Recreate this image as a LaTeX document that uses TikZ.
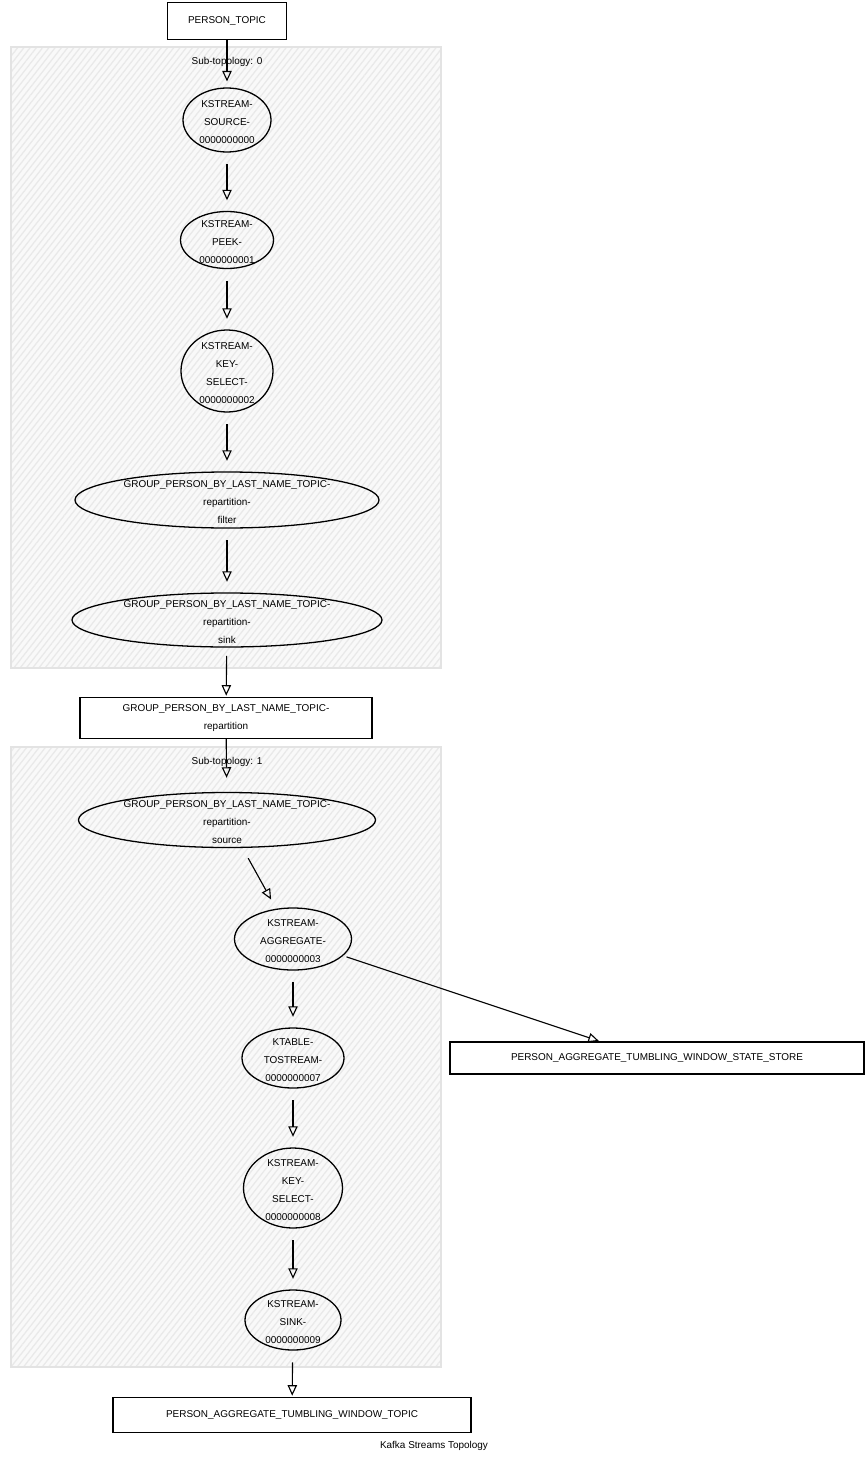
\documentclass[tikz,border=0pt]{standalone}
\usepackage{fontspec}
\setmainfont{Liberation Sans}
\usetikzlibrary{shapes.geometric,arrows.meta,patterns.meta,calc}
\newcommand{\pxu}{0.03cm}
\tikzset{
  topic/.style={draw, rectangle, line width=1.1pt, align=center, inner sep=0pt, fill=white},
  proc/.style={draw, ellipse, line width=1.1pt, inner sep=0pt},
  cluster/.style={draw=gray!22, line width=1.3pt, preaction={fill=gray!5}, pattern={Lines[angle=52,distance=4.2pt,line width=1.1pt]}, pattern color=gray!17},
  flow/.style={-{Triangle[open,length=9pt,width=8pt]}, line width=0.95pt, shorten <=10pt, shorten >=9pt},
  every label/.style={yshift=-1.5pt},
}
\begin{document}
\begin{tikzpicture}[x=0.03cm,y=-0.03cm,font=\fontsize{8.5}{15.4}\selectfont]
\useasboundingbox (0,0) rectangle (867,1461);

% sub-topologies
\draw[cluster] (11,47) rectangle (441,668);
\draw[cluster] (11,747) rectangle (441,1367);
\node (sub_0) at (227,62) {Sub-topology: 0};
\node (sub_1) at (227,762) {Sub-topology: 1};

% topics
\node[topic, minimum width=119*\pxu, minimum height=37*\pxu] (person_topic) at (227,21) {PERSON\_TOPIC};
\node[topic, minimum width=292*\pxu, minimum height=41*\pxu] (repart_topic) at (226,718) {GROUP\_PERSON\_BY\_LAST\_NAME\_TOPIC-\\repartition};
\node[topic, minimum width=414*\pxu, minimum height=32*\pxu] (state_store) at (657,1058) {PERSON\_AGGREGATE\_TUMBLING\_WINDOW\_STATE\_STORE};
\node[topic, minimum width=358*\pxu, minimum height=35*\pxu] (window_topic) at (292,1415) {PERSON\_AGGREGATE\_TUMBLING\_WINDOW\_TOPIC};

% sub-topology 0
\node[proc, minimum width=88*\pxu, minimum height=64*\pxu, label={[align=center]center:KSTREAM-\\SOURCE-\\0000000000}] (source_0) at (227,120) {};
\node[proc, minimum width=93*\pxu, minimum height=57*\pxu, label={[align=center]center:KSTREAM-\\PEEK-\\0000000001}] (peek_1) at (227,240) {};
\node[proc, minimum width=92*\pxu, minimum height=82*\pxu, label={[align=center]center:KSTREAM-\\KEY-\\SELECT-\\0000000002}] (keysel_2) at (227,371) {};
\node[proc, minimum width=304*\pxu, minimum height=56*\pxu, label={[align=center]center:GROUP\_PERSON\_BY\_LAST\_NAME\_TOPIC-\\repartition-\\filter}] (filter) at (227,500) {};
\node[proc, minimum width=310*\pxu, minimum height=54*\pxu, label={[align=center]center:GROUP\_PERSON\_BY\_LAST\_NAME\_TOPIC-\\repartition-\\sink}] (sink) at (227,620) {};

% sub-topology 1
\node[proc, minimum width=297*\pxu, minimum height=55*\pxu, label={[align=center]center:GROUP\_PERSON\_BY\_LAST\_NAME\_TOPIC-\\repartition-\\source}] (source) at (227,820) {};
\node[proc, minimum width=117*\pxu, minimum height=62*\pxu, label={[align=center]center:KSTREAM-\\AGGREGATE-\\0000000003}] (agg_3) at (293,939) {};
\node[proc, minimum width=102*\pxu, minimum height=60*\pxu, label={[align=center]center:KTABLE-\\TOSTREAM-\\0000000007}] (tostream_7) at (293,1058) {};
\node[proc, minimum width=99*\pxu, minimum height=80*\pxu, label={[align=center]center:KSTREAM-\\KEY-\\SELECT-\\0000000008}] (keysel_8) at (293,1188) {};
\node[proc, minimum width=96*\pxu, minimum height=60*\pxu, label={[align=center]center:KSTREAM-\\SINK-\\0000000009}] (sink_9) at (293,1320) {};

\node (caption) at (434,1446) {Kafka Streams Topology};

% edges
\draw[flow, shorten <=0pt, shorten >=5pt] (person_topic) -- (source_0);
\draw[flow] (source_0) -- (peek_1);
\draw[flow] (peek_1) -- (keysel_2);
\draw[flow] (keysel_2) -- (filter);
\draw[flow] (filter) -- (sink);
\draw[flow, shorten <=7pt, shorten >=1pt] (sink) -- (repart_topic);
\draw[flow, shorten <=0pt, shorten >=12pt] (repart_topic) -- (source);
\draw[flow] (source) -- (agg_3);
\draw[flow, shorten <=3pt, shorten >=1pt] (agg_3) -- ($(state_store.north)+(-57,0)$);
\draw[flow] (agg_3) -- (tostream_7);
\draw[flow] (tostream_7) -- (keysel_8);
\draw[flow] (keysel_8) -- (sink_9);
\draw[flow, shorten >=1pt] (sink_9) -- (window_topic);
\end{tikzpicture}
\end{document}
